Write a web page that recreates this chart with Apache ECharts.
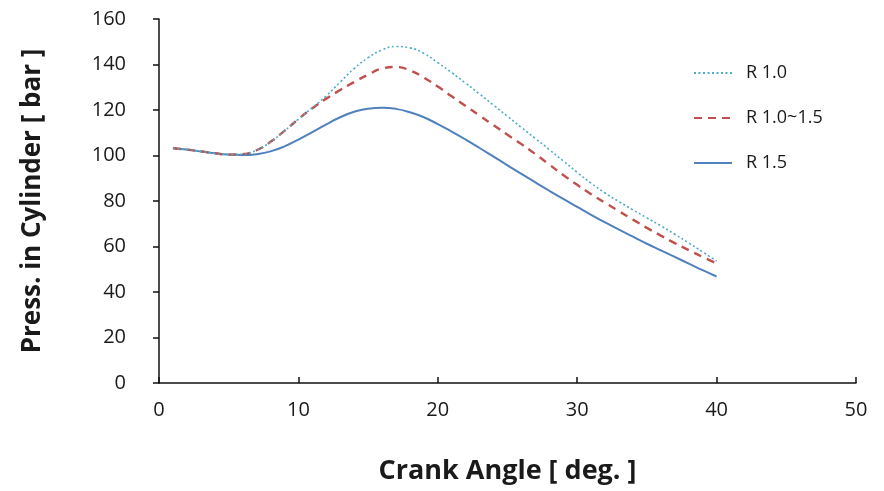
<!DOCTYPE html>
<html>
<head>
<meta charset="utf-8">
<script src="https://cdn.jsdelivr.net/npm/echarts@6/dist/echarts.min.js"></script>
<style>
  html, body { margin: 0; padding: 0; background: #fff; }
  #chart { width: 884px; height: 491px; }
</style>
</head>
<body>
<div id="chart"></div>
<script>
// Crank angle (deg.)
const crankAngle = [1,2,3,4,5,6,7,8,9,10,11,12,13,14,15,16,17,18,19,20,
                    21,22,23,24,25,26,27,28,29,30,31,32,33,34,35,36,37,38,39,40];

// Cylinder pressure (bar) for each configuration
const pressR10 = [103.2,102.6,101.8,101.0,100.4,100.6,102.3,106.0,110.8,116.0,
                  121.0,126.2,132.3,138.2,143.0,146.4,147.9,147.3,144.9,140.8,
                  136.4,131.8,127.0,122.1,117.2,112.3,107.5,102.6,97.6,92.6,
                  87.8,83.5,79.7,76.1,72.6,69.1,65.4,61.6,57.6,53.6];

const pressR10to15 = [103.2,102.6,101.8,101.0,100.4,100.6,102.3,106.0,110.8,116.0,
                      120.8,125.0,128.8,132.3,135.5,138.2,138.9,137.4,134.2,130.3,
                      126.0,121.8,117.5,113.3,109.1,105.0,100.6,96.0,91.4,87.1,
                      83.0,79.2,75.5,71.8,68.2,64.8,61.5,58.4,55.4,52.6];

const pressR15 = [103.2,102.6,101.8,101.0,100.4,100.2,100.6,101.8,104.0,107.0,
                  110.3,113.7,116.8,119.2,120.6,121.0,120.5,119.0,116.8,113.8,
                  110.5,107.0,103.3,99.5,95.7,91.9,88.2,84.5,80.9,77.4,
                  73.9,70.6,67.4,64.3,61.2,58.3,55.4,52.5,49.6,46.8];

const seriesNames = ['R 1.0', 'R 1.0~1.5', 'R 1.5'];

const pair = (xs, ys) => xs.map((x, i) => [x, ys[i]]);

const textColor = '#1a1a1a';
const fontFamily = '"Open Sans", "Liberation Sans", sans-serif';

const chart = echarts.init(document.getElementById('chart'));
chart.setOption({
  backgroundColor: '#ffffff',
  animation: false,
  grid: { left: 159, right: 28, top: 19, bottom: 108, containLabel: false },
  legend: {
    orient: 'vertical',
    left: 688,
    top: 59,
    itemWidth: 38,
    itemHeight: 20,
    itemGap: 27,
    itemStyle: { opacity: 0 },
    textStyle: { fontSize: 18, color: textColor, fontFamily: fontFamily, padding: [0, 0, 0, 9] },
    data: seriesNames
  },
  xAxis: {
    type: 'value',
    min: 0, max: 50, interval: 10,
    name: 'Crank Angle [ deg. ]',
    nameLocation: 'middle',
    nameGap: 75,
    nameTextStyle: { fontSize: 27, fontWeight: 'bold', color: textColor, fontFamily: fontFamily },
    axisLine: { show: true, lineStyle: { color: '#111', width: 1.5 } },
    axisTick: { show: true, inside: true, length: 6, lineStyle: { color: '#111', width: 1.5 } },
    axisLabel: { fontSize: 20, color: textColor, fontFamily: fontFamily, margin: 17 },
    splitLine: { show: false }
  },
  yAxis: {
    type: 'value',
    min: 0, max: 160, interval: 20,
    name: 'Press. in Cylinder [ bar ]',
    nameLocation: 'middle',
    nameGap: 113,
    nameTextStyle: { fontSize: 26, fontWeight: 'bold', color: textColor, fontFamily: fontFamily },
    axisLine: { show: true, lineStyle: { color: '#111', width: 1.5 } },
    axisTick: { show: true, inside: false, length: 6, lineStyle: { color: '#111', width: 1.5 } },
    axisLabel: { fontSize: 20, color: textColor, fontFamily: fontFamily, margin: 33 },
    splitLine: { show: false }
  },
  series: [
    {
      name: seriesNames[0],
      type: 'line',
      data: pair(crankAngle, pressR10),
      smooth: true,
      showSymbol: false,
      symbol: 'none',
      z: 3,
      itemStyle: { color: '#4bacc6' },
      lineStyle: { color: '#4bacc6', width: 1.6, type: [2, 2.5] }
    },
    {
      name: seriesNames[1],
      type: 'line',
      data: pair(crankAngle, pressR10to15),
      smooth: true,
      showSymbol: false,
      symbol: 'none',
      z: 2,
      itemStyle: { color: '#c0504d' },
      lineStyle: { color: '#c0504d', width: 2.4, type: [8, 6] }
    },
    {
      name: seriesNames[2],
      type: 'line',
      data: pair(crankAngle, pressR15),
      smooth: true,
      showSymbol: false,
      symbol: 'none',
      z: 1,
      itemStyle: { color: '#4f81bd' },
      lineStyle: { color: '#4f81bd', width: 2 }
    }
  ]
});
</script>
</body>
</html>
